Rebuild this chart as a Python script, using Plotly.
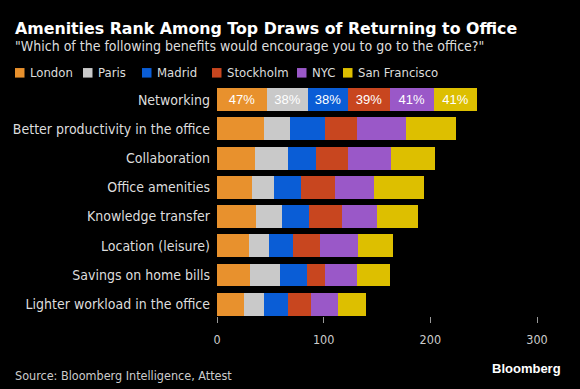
import plotly.graph_objects as go

categories = [
    "Networking",
    "Better productivity in the office",
    "Collaboration",
    "Office amenities",
    "Knowledge transfer",
    "Location (leisure)",
    "Savings on home bills",
    "Lighter workload in the office",
]
series_names = ["London", "Paris", "Madrid", "Stockholm", "NYC", "San Francisco"]
london = [47, 44, 36, 33, 37, 30, 31, 25]
paris = [38, 24, 31, 20, 24, 19, 28, 19]
madrid = [38, 33, 26, 26, 25, 22, 25, 23]
stockholm = [39, 30, 30, 32, 31, 26, 17, 21]
nyc = [41, 46, 40, 36, 33, 35, 30, 25]
san_francisco = [41, 47, 41, 47, 38, 33, 31, 27]
x_ticks = [0, 100, 200, 300]
labelled_category = "Networking"

series_values = [london, paris, madrid, stockholm, nyc, san_francisco]
colors = ["#E8912D", "#C9C9C9", "#0A5DD6", "#C8461F", "#9A58C8", "#DDBF00"]

W, H = 580, 389
L, R, T, B = 217, 569, 85.4, 315.6
FONT = "DejaVu Sans Condensed"

def px2x(px):
    return (px - L) / (R - L)

def py2y(py):
    return (B - py) / (B - T)

fig = go.Figure()
for name, vals, col in zip(series_names, series_values, colors):
    fig.add_trace(go.Bar(
        y=categories, x=vals, name=name, orientation="h",
        marker=dict(color=col, line=dict(width=0)),
        text=[f"{v}%" if c == labelled_category else "" for c, v in zip(categories, vals)],
        textposition="inside", insidetextanchor="middle",
        textfont=dict(color="white", size=13, family="Liberation Sans"),
        hoverinfo="skip",
    ))

fig.update_layout(
    width=W, height=H,
    barmode="stack", bargap=0.22,
    paper_bgcolor="black", plot_bgcolor="black",
    showlegend=False,
    margin=dict(l=L, r=W - R, t=T, b=H - B, pad=0),
    font=dict(family=FONT, color="#DDDDDD", size=13),
    xaxis=dict(range=[0, 330], tickvals=x_ticks, showgrid=False, zeroline=False,
               showline=False, ticks="outside", ticklen=6, tickcolor="#999999",
               tickfont=dict(size=12.5, color="#CCCCCC"), ticklabelstandoff=6),
    yaxis=dict(categoryorder="array", categoryarray=categories, range=[7.4, -0.5],
               showgrid=False, zeroline=False, showline=False,
               tickfont=dict(size=14, color="#DDDDDD"), ticklabelstandoff=6),
)

# Title, subtitle
fig.add_annotation(text="<b>Amenities Rank Among Top Draws of Returning to Office</b>",
                   x=px2x(13), y=py2y(29), xref="paper", yref="paper",
                   xanchor="left", yanchor="middle", showarrow=False,
                   font=dict(size=15.8, color="white", family="DejaVu Sans"))
fig.add_annotation(text='"Which of the following benefits would encourage you to go to the office?"',
                   x=px2x(13), y=py2y(47), xref="paper", yref="paper",
                   xanchor="left", yanchor="middle", showarrow=False,
                   font=dict(size=14, color="#DDDDDD", family=FONT))

# Legend
sq_left = [15, 83, 142, 212, 297, 343]
for name, col, x0 in zip(series_names, colors, sq_left):
    fig.add_shape(type="rect", xref="paper", yref="paper",
                  x0=px2x(x0), x1=px2x(x0 + 9.5), y0=py2y(78), y1=py2y(68.5),
                  fillcolor=col, line=dict(width=0))
    fig.add_annotation(text=name, x=px2x(x0 + 13), y=py2y(73), xref="paper", yref="paper",
                       xanchor="left", yanchor="middle", showarrow=False,
                       font=dict(size=13, color="#DDDDDD", family=FONT))

# Footer
fig.add_annotation(text="Source: Bloomberg Intelligence, Attest",
                   x=px2x(13), y=py2y(375), xref="paper", yref="paper",
                   xanchor="left", yanchor="middle", showarrow=False,
                   font=dict(size=12.5, color="#CCCCCC", family=FONT))
fig.add_annotation(text="<b>Bloomberg</b>",
                   x=px2x(563), y=py2y(368), xref="paper", yref="paper",
                   xanchor="right", yanchor="middle", showarrow=False,
                   font=dict(size=13, color="white", family="Liberation Sans"))

fig.write_html("out.html", config={"displayModeBar": False},
               post_script="document.body.style.margin='0';document.body.style.overflow='hidden';")
